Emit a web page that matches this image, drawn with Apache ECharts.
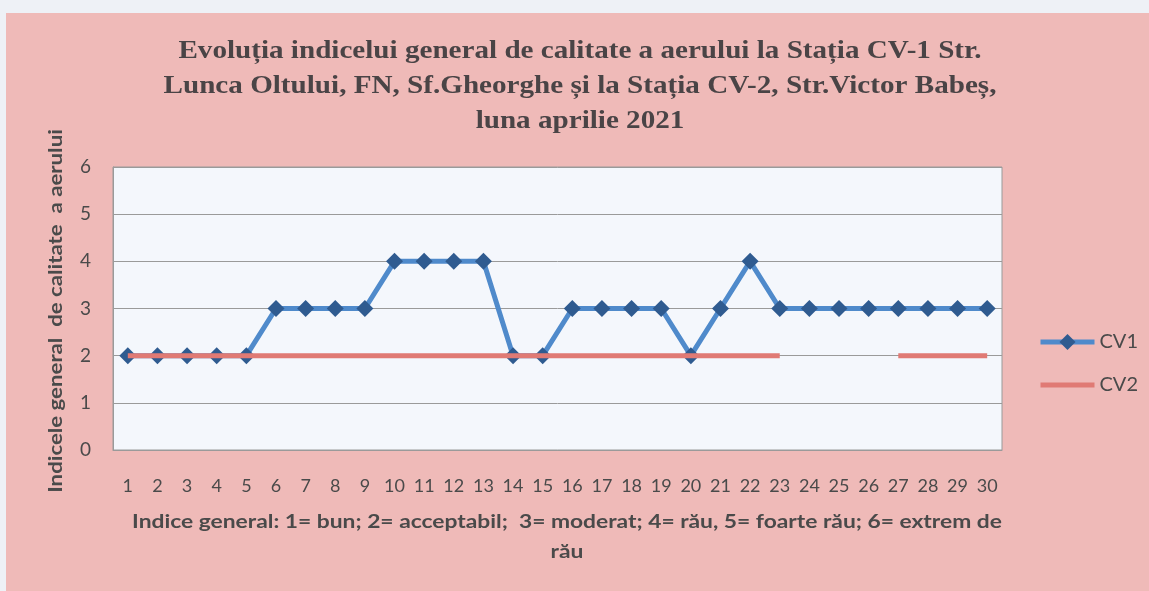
<!DOCTYPE html>
<html><head><meta charset="utf-8">
<script src="https://cdn.jsdelivr.net/npm/echarts@6/dist/echarts.min.js"></script>
<style>
html,body{margin:0;padding:0;background:#eef1f6;}
#c{position:absolute;left:6px;top:13px;width:1143px;height:578px;}
</style></head>
<body><div id="c"></div>
<script>
const days = ['1','2','3','4','5','6','7','8','9','10','11','12','13','14','15','16','17','18','19','20','21','22','23','24','25','26','27','28','29','30'];
const cv1 = [2,2,2,2,2,3,3,3,3,4,4,4,4,2,2,3,3,3,3,2,3,4,3,3,3,3,3,3,3,3];
const cv2 = [2,2,2,2,2,2,2,2,2,2,2,2,2,2,2,2,2,2,2,2,2,2,2,null,null,null,2,2,2,2];
const yTicks = [0,1,2,3,4,5,6];
const titleText = 'Evoluția indicelui general de calitate a aerului la Stația CV-1 Str.\nLunca Oltului, FN, Sf.Gheorghe și la Stația CV-2, Str.Victor Babeș,\nluna aprilie 2021';
const xName = 'Indice general: 1= bun; 2= acceptabil;  3= moderat; 4= rău, 5= foarte rău; 6= extrem de\nrău';
const yName = 'Indicele general  de calitate  a aerului';

const chart = echarts.init(document.getElementById('c'));
const ox = 6, oy = 13;
chart.setOption({
  backgroundColor: '#efbab8',
  legend: {
    orient: 'vertical', left: 1038 - ox, top: 332 - oy, itemGap: 23, padding: 0,
    itemWidth: 54, itemHeight: 20,
    textStyle: {fontFamily: 'Lato', fontSize: 20, color: '#4a4a4a'},
    data: [{name: 'CV1', lineStyle: {width: 5}},
           {name: 'CV2', itemStyle: {opacity: 0}, lineStyle: {width: 5}}]
  },
  grid: {left: 113 - ox, right: 147, top: 167 - oy, bottom: 141, show: true,
    backgroundColor: '#f4f7fc', borderColor: '#9a9a9a', borderWidth: 1},
  xAxis: {
    type: 'category', data: days, boundaryGap: true,
    axisLine: {show: true, lineStyle: {color: '#9a9a9a'}}, axisTick: {show: false},
    axisLabel: {fontFamily: 'Lato', fontSize: 18, color: '#4a4a4a', margin: 27, interval: 0}
  },
  yAxis: {
    type: 'value', min: 0, max: 6, interval: 1,
    axisLine: {show: true, lineStyle: {color: '#9a9a9a'}},
    axisLabel: {fontFamily: 'Lato', fontSize: 19, color: '#4a4a4a', margin: 22,
      formatter: v => yTicks.includes(v) ? String(v) : ''},
    splitLine: {lineStyle: {color: '#9a9a9a', width: 1}}
  },
  graphic: [
    {type: 'text', x: 580 - ox, y: 86 - oy, scaleX: 1.12, silent: true,
     style: {text: titleText, align: 'center', verticalAlign: 'middle',
       fontFamily: 'Liberation Serif', fontWeight: 'bold', fontSize: 26, lineHeight: 35, fill: '#4a4446'}},
    {type: 'text', x: 567 - ox, y: 537 - oy, scaleX: 1.2, silent: true,
     style: {text: xName, align: 'center', verticalAlign: 'middle',
       fontFamily: 'Lato', fontWeight: 'bold', fontSize: 19, lineHeight: 30, fill: '#4a4a4a'}},
    {type: 'text', x: 56 - ox, y: 311 - oy, rotation: Math.PI / 2, scaleX: 1.17, silent: true,
     style: {text: yName, align: 'center', verticalAlign: 'middle',
       fontFamily: 'Lato', fontWeight: 'bold', fontSize: 19, fill: '#4a4a4a'}}
  ],
  series: [
    {name: 'CV1', type: 'line', data: cv1, symbol: 'diamond', symbolSize: 17,
     lineStyle: {color: '#4f8acb', width: 5}, itemStyle: {color: '#2f5b90'}, z: 2},
    {name: 'CV2', type: 'line', data: cv2, symbol: 'none', connectNulls: false,
     lineStyle: {color: '#e07a74', width: 5}, itemStyle: {color: '#e07a74'}, z: 3}
  ]
});
</script></body></html>
